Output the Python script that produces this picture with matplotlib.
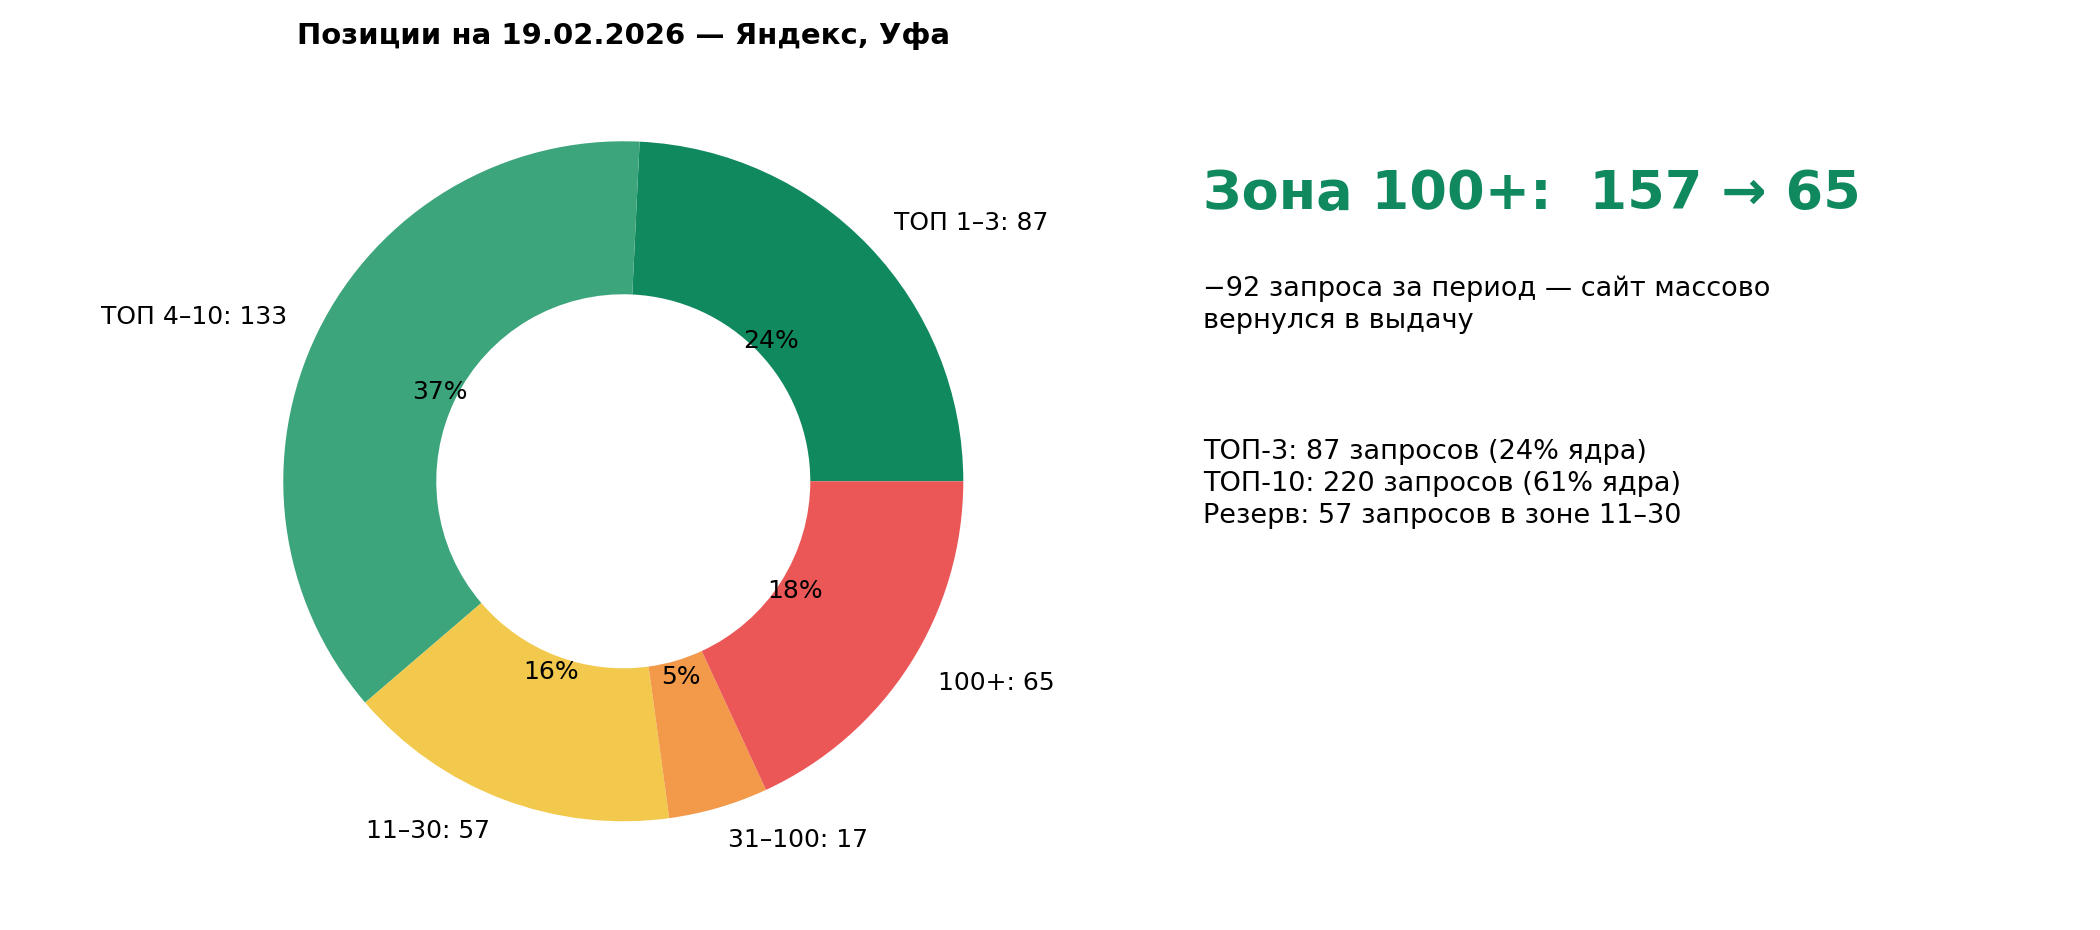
import matplotlib
matplotlib.use('Agg')
import matplotlib.pyplot as plt

# позиции на 19.02.2026
labels = ['ТОП 1–3', 'ТОП 4–10', '11–30', '31–100', '100+']
counts = [87, 133, 57, 17, 65]
colors = ['#10895E', '#3DA57C', '#F2C94C', '#F2994A', '#EB5757']

headline = 'Зона 100+:  157 → 65'
subline = '−92 запроса за период — сайт массово\nвернулся в выдачу'
summary = ['ТОП-3: 87 запросов (24% ядра)',
           'ТОП-10: 220 запросов (61% ядра)',
           'Резерв: 57 запросов в зоне 11–30']

fig = plt.figure(figsize=(14, 6.2), dpi=150)
ax = fig.add_axes([0.0943, 0.0255, 0.405, 0.914])

wedges, texts, autotexts = ax.pie(
    counts,
    labels=[f'{l}: {c}' for l, c in zip(labels, counts)],
    colors=colors,
    autopct='%1.0f%%',
    startangle=0,
    counterclock=True,
    pctdistance=0.6,
    labeldistance=1.1,
    wedgeprops=dict(width=0.45),
    textprops=dict(fontsize=12),
)
ax.set_aspect('equal')
ax.set_title('Позиции на 19.02.2026 — Яндекс, Уфа', fontsize=14,
             fontweight='bold', pad=6)

fig.text(0.573, 0.791, headline, fontsize=26, fontweight='bold',
         color='#10895E', ha='left', va='center')
fig.text(0.573, 0.672, subline, fontsize=13, ha='left', va='center',
         linespacing=1.3)
fig.text(0.573, 0.48, '\n'.join(summary), fontsize=13, ha='left',
         va='center', linespacing=1.3)

fig.savefig('out.png', dpi=150)
